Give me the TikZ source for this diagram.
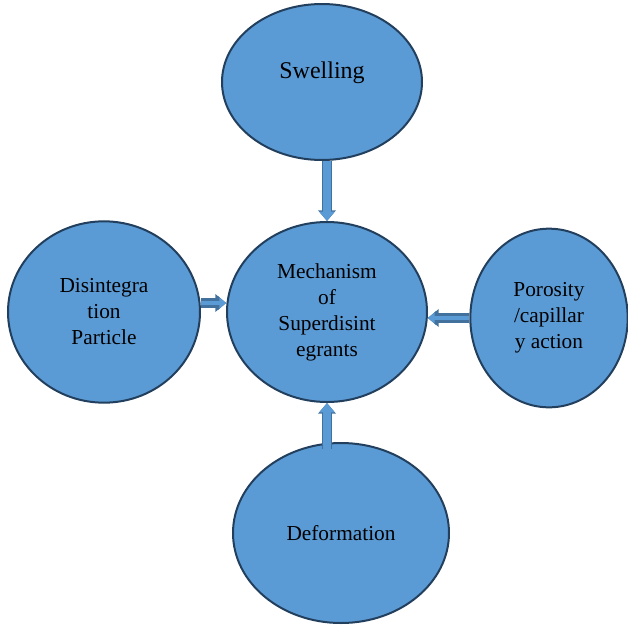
\documentclass[tikz,border=0pt]{standalone}
\usepackage{fontspec}
\setmainfont{LiberationSerif}[Extension = .ttf, UprightFont = *-Regular, BoldFont = *-Bold]
\usetikzlibrary{shapes.geometric,arrows.meta}
\definecolor{blobfill}{HTML}{5B9BD5}
\definecolor{blobedge}{HTML}{223F5E}
\definecolor{pushedge}{HTML}{41719C}
\begin{document}
\begin{tikzpicture}[x = 0.75pt, y = -0.75pt,
        blob/.style = {ellipse, draw = blobedge, line width = 1.5pt, fill = blobfill, align = center, inner sep = 0pt, font = \rmfamily\fontsize{16}{19.5}\selectfont},
        push/.style = {draw = blobfill, line width = 5.5pt, -{Triangle[length = 7pt, width = 11pt]},
            preaction = {draw = pushedge, line width = 7.5pt, -{Triangle[length = 8pt, width = 13pt]}}},
        pushthin/.style = {push, line width = 3.5pt, -{Triangle[length = 5pt, width = 8pt]},
            preaction = {draw = pushedge, line width = 5pt, -{Triangle[length = 6pt, width = 10pt]}}}]
    \useasboundingbox (0, 0) rectangle (628, 625);
    \node[blob, minimum width = 150pt, minimum height = 117pt, font = \rmfamily\fontsize{18}{21}\selectfont, text depth = 17pt] (swell) at (322, 82) {Swelling};
    \node[blob, minimum width = 150pt, minimum height = 135pt] (mech) at (327, 312) {Mechanism\\of\\Superdisint\\egrants};
    \node[blob, minimum width = 144pt, minimum height = 136pt] (disint) at (104, 312) {Disintegra\\tion\\Particle};
    \node[blob, minimum width = 118pt, minimum height = 134pt] (poro) at (549, 318) {Porosity\\/capillar\\y action};
    \node[blob, minimum width = 162pt, minimum height = 135pt] (deform) at (341, 533) {Deformation};
    \draw[push] (mech.north |- swell.south) -- (mech.north);
    \draw[push] ([yshift = -5pt]mech.south |- deform.north) -- (mech.south);
    \draw[pushthin] ([yshift = 6.75pt]disint.east) -- ([yshift = 6.75pt]mech.west);
    \draw[pushthin] (poro.west) -- (mech.east |- poro.west);
\end{tikzpicture}
\end{document}
